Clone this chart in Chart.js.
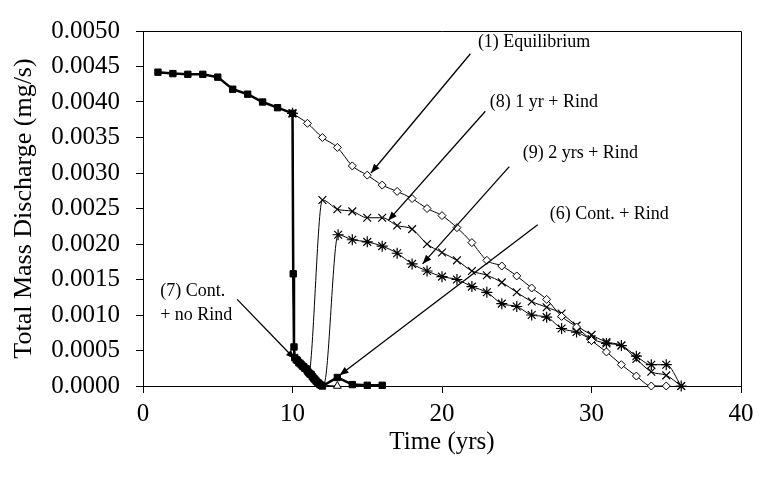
<!DOCTYPE html>
<html><head><meta charset="utf-8">
<script src="https://cdn.jsdelivr.net/npm/chart.js@4.4.1/dist/chart.umd.min.js"></script>
<style>html,body{margin:0;padding:0;background:#fff}</style>
</head><body>
<canvas id="c" width="761" height="502" style="width:761px;height:502px;display:block"></canvas>
<script>
// ---- data (time in yrs, discharge in mg/s) ----
const xTicks = [0, 10, 20, 30, 40];
const yTicks = [0, 0.0005, 0.001, 0.0015, 0.002, 0.0025, 0.003, 0.0035, 0.004, 0.0045, 0.005];

const contNoRindTime  = [1,2,3,4,5,6,7,8,9,10,10.05,10.1,10.15,10.25,10.33,10.42,10.5,10.58,10.67,10.75,10.83,10.92,11.0,11.08,11.17,11.25,11.33,11.42,11.5,11.58,11.67,11.75,11.83,11.92,12.0,13,14,15,16];
const contNoRindValue = [0.00442,0.00440,0.00439,0.00439,0.00435,0.00418,0.00411,0.00400,0.00392,0.00384,0.00158,0.00055,0.00040,0.00037,0.00036,0.00033,0.00032,0.00030,0.00028,0.00027,0.00025,0.00024,0.00021,0.00019,0.00017,0.00016,0.00013,0.00011,0.00009,0.00007,0.00005,0.00004,0.00002,0.00001,0.0,0.00012,0.00002,0.00001,0.00001];

const contRindTime  = [10,10.1,10.5,11.0,11.5,12.0,13];
const contRindValue = [0.00384,0.00045,0.00033,0.00021,0.00009,0.00002,0.0];

const equilTime  = [10,11,12,13,14,15,16,17,18,19,20,21,22,23,24,25,26,27,28,29,30,31,32,33,34,35];
const equilValue = [0.00384,0.00370,0.00350,0.00336,0.00310,0.00297,0.00283,0.00274,0.00264,0.00250,0.00240,0.00223,0.00202,0.00177,0.00169,0.00155,0.00138,0.00122,0.00098,0.00083,0.00064,0.00048,0.00030,0.00014,0.0,0.0];

const oneYrTime  = [10,10.1,10.5,11.05,12,13,14,15,16,17,18,19,20,21,22,23,24,25,26,27,28,29,30,31,32,33,34,35,36];
const oneYrValue = [0.00384,0.00045,0.00033,0.00012,0.00262,0.00249,0.00246,0.00237,0.00237,0.00226,0.00221,0.00200,0.00188,0.00177,0.00162,0.00156,0.00146,0.00132,0.00119,0.00111,0.00102,0.00085,0.00072,0.00062,0.00057,0.00038,0.00020,0.00015,0.0];

const twoYrTime  = [10,10.1,10.5,11.0,11.5,12.1,13.05,14,15,16,17,18,19,20,21,22,23,24,25,26,27,28,29,30,31,32,33,34,35,36];
const twoYrValue = [0.00384,0.00045,0.00033,0.00021,0.00009,0.00003,0.00213,0.00206,0.00203,0.00197,0.00187,0.00172,0.00162,0.00154,0.00150,0.00140,0.00132,0.00116,0.00112,0.00100,0.00097,0.00081,0.00076,0.00066,0.00060,0.00057,0.00042,0.00030,0.00030,0.0];

// annotation anchors in data units: [text, textT, textV, fromT, fromV, toT, toV]
const notes = [
  ['(1) Equilibrium', 22.4, 0.00484, 21.9, 0.00468, 15.25, 0.00300],
  ['(8) 1 yr + Rind', 23.2, 0.00400, 22.9, 0.00387, 16.4, 0.00233],
  ['(9) 2 yrs + Rind', 25.4, 0.00328, 24.5, 0.00309, 18.7, 0.00172],
  ['(6) Cont. + Rind', 27.2, 0.00242, 26.4, 0.00227, 13.15, 0.00015]
];
const note7Lines = ['(7) Cont.', '+ no Rind'];
const note7 = [1.15, 0.00133, 0.00100, 6.3, 0.00122, 10.15, 0.00038];

function pts(t, v){ return t.map((x,i)=>({x:x, y:v[i]})); }

const serif = 'Liberation Serif, Times New Roman, serif';

const framePlugin = {
  id:'frame',
  afterDatasetsDraw(chart){
    const {ctx, chartArea:a} = chart;
    ctx.save();
    ctx.strokeStyle='#000'; ctx.lineWidth=1;
    ctx.beginPath();
    ctx.moveTo(a.left, Math.round(a.top)+0.5);
    ctx.lineTo(Math.round(a.right)+0.5, Math.round(a.top)+0.5);
    ctx.lineTo(Math.round(a.right)+0.5, a.bottom);
    ctx.stroke();
    ctx.restore();
  }
};

function arrow(ctx, x1, y1, x2, y2){
  ctx.beginPath(); ctx.moveTo(x1,y1); ctx.lineTo(x2,y2); ctx.stroke();
  const ang = Math.atan2(y2-y1, x2-x1);
  const L=9, W=3.5;
  ctx.beginPath();
  ctx.moveTo(x2,y2);
  ctx.lineTo(x2 - L*Math.cos(ang) + W*Math.sin(ang), y2 - L*Math.sin(ang) - W*Math.cos(ang));
  ctx.lineTo(x2 - L*Math.cos(ang) - W*Math.sin(ang), y2 - L*Math.sin(ang) + W*Math.cos(ang));
  ctx.closePath(); ctx.fill();
}

const notePlugin = {
  id:'notes',
  afterDraw(chart){
    const {ctx} = chart;
    const sx = chart.scales.x, sy = chart.scales.y;
    const X = t=>sx.getPixelForValue(t), Y = v=>sy.getPixelForValue(v);
    ctx.save();
    ctx.fillStyle='#000'; ctx.strokeStyle='#000'; ctx.lineWidth=1.3;
    ctx.font = '18px ' + serif;
    ctx.textBaseline='middle'; ctx.textAlign='left';
    notes.forEach(n=>{
      ctx.fillText(n[0], X(n[1]), Y(n[2]));
      arrow(ctx, X(n[3]), Y(n[4]), X(n[5]), Y(n[6]));
    });
    ctx.fillText(note7Lines[0], X(note7[0]), Y(note7[1]));
    ctx.fillText(note7Lines[1], X(note7[0]), Y(note7[2]));
    arrow(ctx, X(note7[3]), Y(note7[4]), X(note7[5]), Y(note7[6]));
    ctx.restore();
  }
};

const transient = c => (c.raw && c.raw.y < 0.001 && c.raw.x < 14);

new Chart(document.getElementById('c'), {
  type:'line',
  data:{ datasets:[
    { label:'(7) Cont. + no Rind', data:pts(contNoRindTime, contNoRindValue), borderColor:'#000', borderWidth:2.5,
      pointStyle:'rect', pointRadius:4.5, pointBackgroundColor:'#000', pointBorderColor:'#000', pointBorderWidth:1, tension:0, clip:false },
    { label:'(6) Cont. + Rind', data:pts(contRindTime, contRindValue), borderColor:'#000', borderWidth:1,
      pointStyle:'triangle', pointRadius:c=>(c.raw && c.raw.x>=12.5)?4.5:0, pointBackgroundColor:'#fff', pointBorderColor:'#000', pointBorderWidth:1, cubicInterpolationMode:'monotone', clip:false },
    { label:'(1) Equilibrium', data:pts(equilTime, equilValue), borderColor:'#000', borderWidth:1,
      pointStyle:'rectRot', pointRadius:4, pointBackgroundColor:'#fff', pointBorderColor:'#000', pointBorderWidth:1, cubicInterpolationMode:'monotone', clip:false },
    { label:'(8) 1 yr + Rind', data:pts(oneYrTime, oneYrValue), borderColor:'#000', borderWidth:1,
      pointStyle:'crossRot', pointRadius:c=>transient(c)?0:5.5, pointBorderColor:'#000', pointBorderWidth:1.2, cubicInterpolationMode:'monotone', clip:false },
    { label:'(9) 2 yrs + Rind', data:pts(twoYrTime, twoYrValue), borderColor:'#000', borderWidth:1,
      pointStyle:'star', pointRadius:c=>transient(c)?0:5.5, pointBorderColor:'#000', pointBorderWidth:1.2, cubicInterpolationMode:'monotone', clip:false }
  ]},
  options:{
    responsive:false, animation:false, devicePixelRatio:1,
    layout:{padding:{top:16, right:20, left:0, bottom:0}},
    plugins:{legend:{display:false}, tooltip:{enabled:false}},
    elements:{line:{fill:false}},
    scales:{
      x:{ type:'linear', min:0, max:40,
        afterBuildTicks(s){ s.ticks = xTicks.map(v=>({value:v})); },
        ticks:{ color:'#000', font:{family:serif, size:25}, padding:6, maxRotation:0, autoSkip:false, callback:v=>String(v) },
        grid:{ drawOnChartArea:false, drawTicks:true, tickLength:7, color:'#000', tickColor:'#000' },
        border:{ color:'#000', width:1 },
        title:{ display:true, text:'Time (yrs)', color:'#000', font:{family:serif, size:25}, padding:{top:0, bottom:45} },
        afterFit(s){ s.height = 116; }
      },
      y:{ type:'linear', min:0, max:0.005,
        afterBuildTicks(s){ s.ticks = yTicks.map(v=>({value:v})); },
        ticks:{ color:'#000', font:{family:serif, size:25}, padding:16, autoSkip:false, callback:v=>Number(v).toFixed(4) },
        grid:{ drawOnChartArea:false, drawTicks:true, tickLength:7, color:'#000', tickColor:'#000' },
        border:{ color:'#000', width:1 },
        title:{ display:true, text:'Total Mass Discharge (mg/s)', color:'#000', font:{family:serif, size:26}, padding:{top:9, bottom:0} },
        afterFit(s){ s.width = 143; }
      }
    }
  },
  plugins:[framePlugin, notePlugin]
});
</script>
</body></html>
